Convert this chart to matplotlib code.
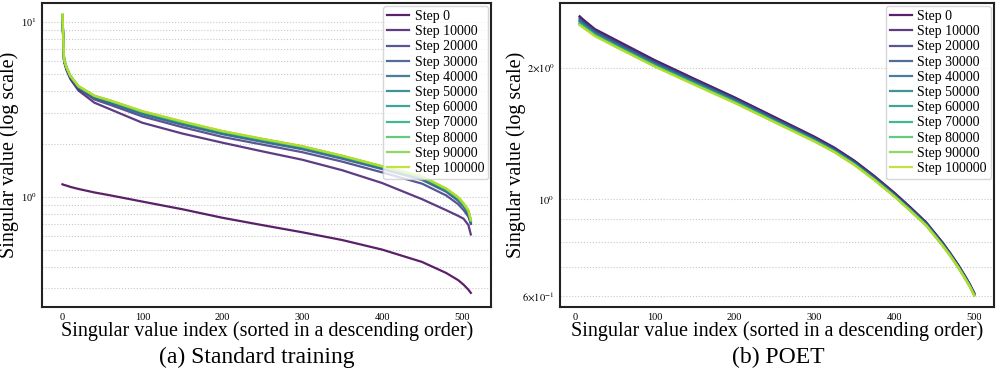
import numpy as np
import matplotlib
matplotlib.use('Agg')
from matplotlib import pyplot as plt
from matplotlib.ticker import NullFormatter

plt.rcParams['font.family'] = ['Liberation Serif', 'DejaVu Serif']
plt.rcParams['mathtext.fontset'] = 'stix'

steps = ['Step 0', 'Step 10000', 'Step 20000', 'Step 30000', 'Step 40000', 'Step 50000',
         'Step 60000', 'Step 70000', 'Step 80000', 'Step 90000', 'Step 100000']

# (a) standard training
idx_a = [0, 2, 5, 10, 20, 40, 60, 100, 150, 200, 250, 300, 350, 400, 450, 480, 495, 502, 508, 511]
sv_a_0 = [1.18, 1.17, 1.16, 1.14, 1.11, 1.06, 1.02, 0.94, 0.85, 0.76, 0.69, 0.628, 0.567, 0.50, 0.425, 0.368, 0.335, 0.315, 0.295, 0.283]
sv_a_10k = [10.6, 5.9, 5.3, 4.7, 4.05, 3.45, 3.16, 2.65, 2.30, 2.04, 1.82, 1.63, 1.42, 1.20, 0.97, 0.84, 0.78, 0.75, 0.69, 0.61]
sv_a_20k = [10.7, 6.0, 5.4, 4.8, 4.15, 3.6, 3.35, 2.88, 2.50, 2.20, 1.99, 1.80, 1.59, 1.38, 1.19, 1.02, 0.91, 0.84, 0.77, 0.70]
sv_a_30k = [10.8, 6.0, 5.45, 4.83, 4.2, 3.68, 3.43, 2.96, 2.58, 2.28, 2.06, 1.87, 1.65, 1.44, 1.25, 1.07, 0.95, 0.88, 0.80, 0.71]
sv_a_40k = [10.8, 6.05, 5.45, 4.85, 4.22, 3.71, 3.47, 3.00, 2.62, 2.31, 2.09, 1.90, 1.68, 1.46, 1.27, 1.09, 0.97, 0.89, 0.81, 0.72]
sv_a_50k = [10.85, 6.05, 5.47, 4.87, 4.24, 3.74, 3.50, 3.03, 2.65, 2.34, 2.11, 1.92, 1.70, 1.48, 1.29, 1.10, 0.98, 0.90, 0.82, 0.72]
sv_a_60k = [10.9, 6.08, 5.48, 4.88, 4.26, 3.75, 3.52, 3.05, 2.66, 2.35, 2.12, 1.93, 1.70, 1.48, 1.29, 1.10, 0.98, 0.90, 0.82, 0.73]
sv_a_70k = [10.9, 6.08, 5.49, 4.89, 4.27, 3.76, 3.53, 3.06, 2.67, 2.36, 2.13, 1.935, 1.71, 1.49, 1.30, 1.11, 0.99, 0.91, 0.83, 0.73]
sv_a_80k = [10.95, 6.1, 5.5, 4.9, 4.28, 3.77, 3.54, 3.07, 2.68, 2.37, 2.14, 1.94, 1.71, 1.49, 1.30, 1.11, 0.99, 0.91, 0.83, 0.73]
sv_a_90k = [11.0, 6.1, 5.5, 4.9, 4.29, 3.78, 3.55, 3.08, 2.69, 2.37, 2.14, 1.945, 1.715, 1.495, 1.305, 1.115, 0.995, 0.915, 0.835, 0.74]
sv_a_100k = [11.0, 6.1, 5.5, 4.9, 4.3, 3.78, 3.55, 3.09, 2.70, 2.38, 2.15, 1.95, 1.72, 1.50, 1.31, 1.12, 1.0, 0.92, 0.84, 0.74]

# (b) POET
idx_b = [6, 10, 25, 50, 100, 150, 200, 250, 300, 325, 350, 375, 400, 420, 440, 460, 470, 480, 490, 495, 500]
sv_b_0 = [2.62, 2.58, 2.45, 2.32, 2.08, 1.884, 1.71, 1.542, 1.39, 1.312, 1.225, 1.13, 1.035, 0.959, 0.885, 0.798, 0.753, 0.708, 0.661, 0.637, 0.611]
sv_b_10k = [2.61, 2.57, 2.44, 2.31, 2.075, 1.88, 1.706, 1.538, 1.387, 1.309, 1.223, 1.128, 1.033, 0.957, 0.884, 0.797, 0.752, 0.707, 0.66, 0.636, 0.61]
sv_b_20k = [2.59, 2.55, 2.43, 2.295, 2.06, 1.87, 1.698, 1.531, 1.38, 1.303, 1.217, 1.123, 1.029, 0.953, 0.881, 0.795, 0.75, 0.705, 0.658, 0.634, 0.608]
sv_b_30k = [2.57, 2.53, 2.41, 2.28, 2.05, 1.86, 1.69, 1.524, 1.374, 1.298, 1.212, 1.119, 1.025, 0.95, 0.878, 0.792, 0.748, 0.703, 0.657, 0.633, 0.607]
sv_b_40k = [2.56, 2.52, 2.40, 2.27, 2.04, 1.852, 1.684, 1.519, 1.37, 1.294, 1.209, 1.116, 1.022, 0.948, 0.876, 0.79, 0.747, 0.702, 0.656, 0.632, 0.606]
sv_b_50k = [2.55, 2.51, 2.39, 2.26, 2.033, 1.846, 1.678, 1.514, 1.366, 1.291, 1.206, 1.113, 1.02, 0.946, 0.875, 0.789, 0.746, 0.701, 0.655, 0.631, 0.605]
sv_b_60k = [2.53, 2.50, 2.38, 2.253, 2.026, 1.84, 1.673, 1.51, 1.363, 1.288, 1.204, 1.111, 1.018, 0.945, 0.873, 0.788, 0.745, 0.7, 0.654, 0.631, 0.604]
sv_b_70k = [2.52, 2.49, 2.375, 2.247, 2.02, 1.835, 1.669, 1.506, 1.36, 1.286, 1.202, 1.109, 1.017, 0.943, 0.872, 0.787, 0.744, 0.699, 0.653, 0.63, 0.604]
sv_b_80k = [2.51, 2.48, 2.37, 2.242, 2.016, 1.831, 1.665, 1.503, 1.358, 1.284, 1.2, 1.108, 1.016, 0.942, 0.871, 0.786, 0.743, 0.699, 0.653, 0.63, 0.603]
sv_b_90k = [2.505, 2.475, 2.365, 2.238, 2.013, 1.828, 1.662, 1.501, 1.356, 1.282, 1.198, 1.107, 1.015, 0.941, 0.87, 0.785, 0.742, 0.698, 0.652, 0.629, 0.603]
sv_b_100k = [2.50, 2.47, 2.36, 2.235, 2.01, 1.825, 1.66, 1.50, 1.355, 1.281, 1.197, 1.106, 1.014, 0.941, 0.87, 0.785, 0.742, 0.698, 0.652, 0.629, 0.603]

series_a = [sv_a_0, sv_a_10k, sv_a_20k, sv_a_30k, sv_a_40k, sv_a_50k,
            sv_a_60k, sv_a_70k, sv_a_80k, sv_a_90k, sv_a_100k]
series_b = [sv_b_0, sv_b_10k, sv_b_20k, sv_b_30k, sv_b_40k, sv_b_50k,
            sv_b_60k, sv_b_70k, sv_b_80k, sv_b_90k, sv_b_100k]

colors = plt.cm.viridis(np.linspace(0, 0.9, len(steps)))

fig = plt.figure(figsize=(9.96, 3.84), dpi=100)
ax1 = fig.add_axes([0.0422, 0.2005, 0.451, 0.7917])
ax2 = fig.add_axes([0.5622, 0.2005, 0.4357, 0.7917])

for ax, idx, series in [(ax1, idx_a, series_a), (ax2, idx_b, series_b)]:
    for lab, vals, c in zip(steps, series, colors):
        ax.plot(idx, vals, color=c, linewidth=1.6, alpha=0.88, label=lab)
    ax.set_yscale('log')
    ax.grid(axis='y', which='both', linestyle=':', color='#c8c8c8', linewidth=0.8)
    ax.tick_params(which='both', length=0, labelsize=7.5, pad=4)
    for s in ax.spines.values():
        s.set_linewidth(1.5)
        s.set_color('#222222')
    ax.set_xlabel('Singular value index (sorted in a descending order)', fontsize=14.5, labelpad=0)
    ax.set_xticks([0, 100, 200, 300, 400, 500])
    ax.legend(loc='upper right', fontsize=10, labelspacing=0.16, borderpad=0.3,
              handlelength=1.6, handletextpad=0.4, borderaxespad=0.2, framealpha=0.8,
              edgecolor='#cccccc')

ax1.set_ylabel('Singular value (log scale)', fontsize=14.5, labelpad=1)
ax2.set_ylabel('Singular value (log scale)', fontsize=14.5, labelpad=-3)

ax1.set_ylim(0.235, 12.8)
ax2.set_ylim(0.567, 2.81)
ax2.set_yticks([0.6, 1, 2], labels=[r'$6{\times}10^{-1}$', r'$10^{0}$', r'$2{\times}10^{0}$'])
ax2.yaxis.set_minor_formatter(NullFormatter())

fig.text(0.258, 0.07, '(a) Standard training', ha='center', va='center', fontsize=17)
fig.text(0.781, 0.07, '(b) POET', ha='center', va='center', fontsize=17)

fig.savefig('out.png', dpi=100)
